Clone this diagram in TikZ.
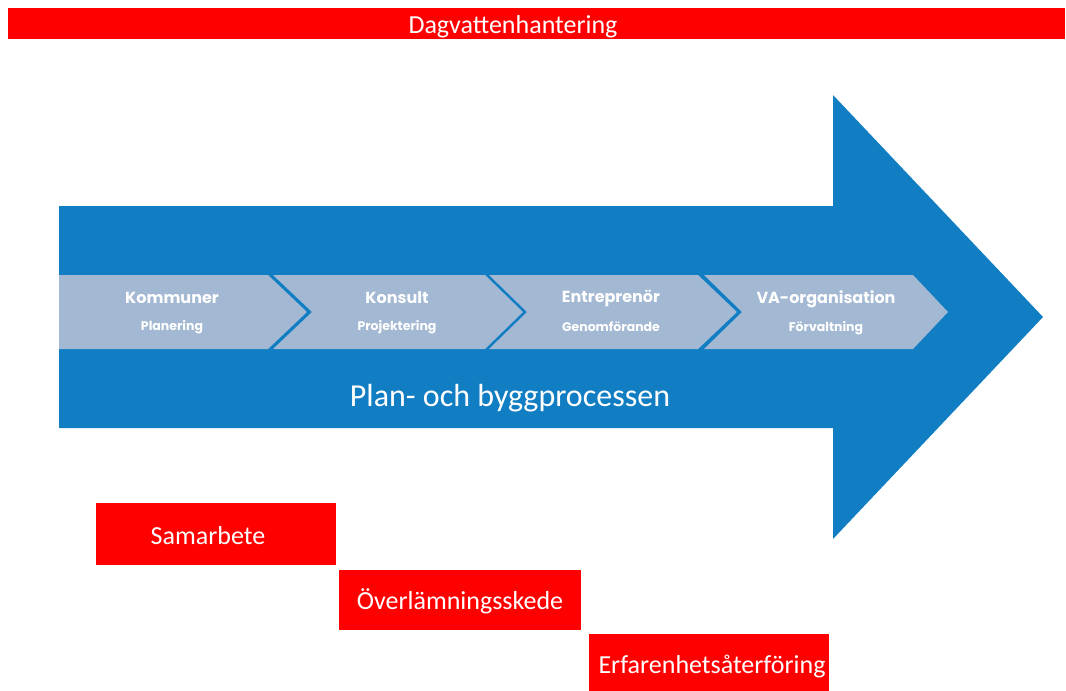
\documentclass[tikz,border=0pt]{standalone}
\usepackage{fontspec}
\setmainfont{Carlito}
\newfontfamily\geo{Poppins}
\definecolor{arrowblue}{RGB}{17,126,196}
\definecolor{chev}{RGB}{163,184,211}
\definecolor{rbox}{RGB}{255,0,0}
\tikzset{
  redbox/.style={fill=rbox, draw=none},
  chevbox/.style={fill=chev, draw=none},
  ctitle/.style={text=white, font=\geo\bfseries\fontsize{16}{18}\selectfont, inner sep=0pt},
  csub/.style={text=white, font=\geo\bfseries\fontsize{12.5}{14}\selectfont, inner sep=0pt},
  redtext/.style={text=white, font=\fontsize{26}{30}\selectfont, inner sep=0pt},
}
\begin{document}
\begin{tikzpicture}[x=1pt,y=-1pt]
\useasboundingbox (0,0) rectangle (1066,691);
% title bar
\fill[redbox] (8,8) rectangle (1065,39);
\node[redtext, font=\fontsize{26}{30}\selectfont] (title) at (513,26.5) {Dagvattenhantering};
% big arrow
\fill[arrowblue] (59,206) -- (833,206) -- (833,95) -- (1043,317) -- (833,539) -- (833,428) -- (59,428) -- cycle;
% chevrons
\fill[chevbox] (59,275) -- (268,275) -- (307,312) -- (268,349) -- (59,349) -- cycle;
\fill[chevbox] (273,275) -- (485,275) -- (523,312) -- (485,349) -- (273,349) -- (312,312) -- cycle;
\fill[chevbox] (489,275) -- (698,275) -- (737,312) -- (698,349) -- (489,349) -- (527,312) -- cycle;
\fill[chevbox] (704,275) -- (913,275) -- (948,312) -- (913,349) -- (704,349) -- (742,312) -- cycle;
% chevron texts
\node[ctitle] (k1) at (172,298) {Kommuner};
\node[csub] (s1) at (172,327) {Planering};
\node[ctitle] (k2) at (397,298) {Konsult};
\node[csub] (s2) at (397,327) {Projektering};
\node[ctitle] (k3) at (611,298) {Entreprenör};
\node[csub] (s3) at (611,327) {Genomförande};
\node[ctitle] (k4) at (826,299) {VA-organisation};
\node[csub] (s4) at (826,328) {Förvaltning};
% process label
\node[text=white, font=\fontsize{32}{36}\selectfont, inner sep=0pt] (proc) at (510,398) {Plan- och byggprocessen};
% red boxes
\fill[redbox] (96,503) rectangle (336,565);
\node[redtext] (samarbete) at (208,536) {Samarbete};
\fill[redbox] (339,570) rectangle (581,630);
\node[redtext] (overl) at (460,601) {Överlämningsskede};
\fill[redbox] (589,634) rectangle (829,691);
\node[redtext] (erf) at (712,667) {Erfarenhetsåterföring};
\end{tikzpicture}
\end{document}
